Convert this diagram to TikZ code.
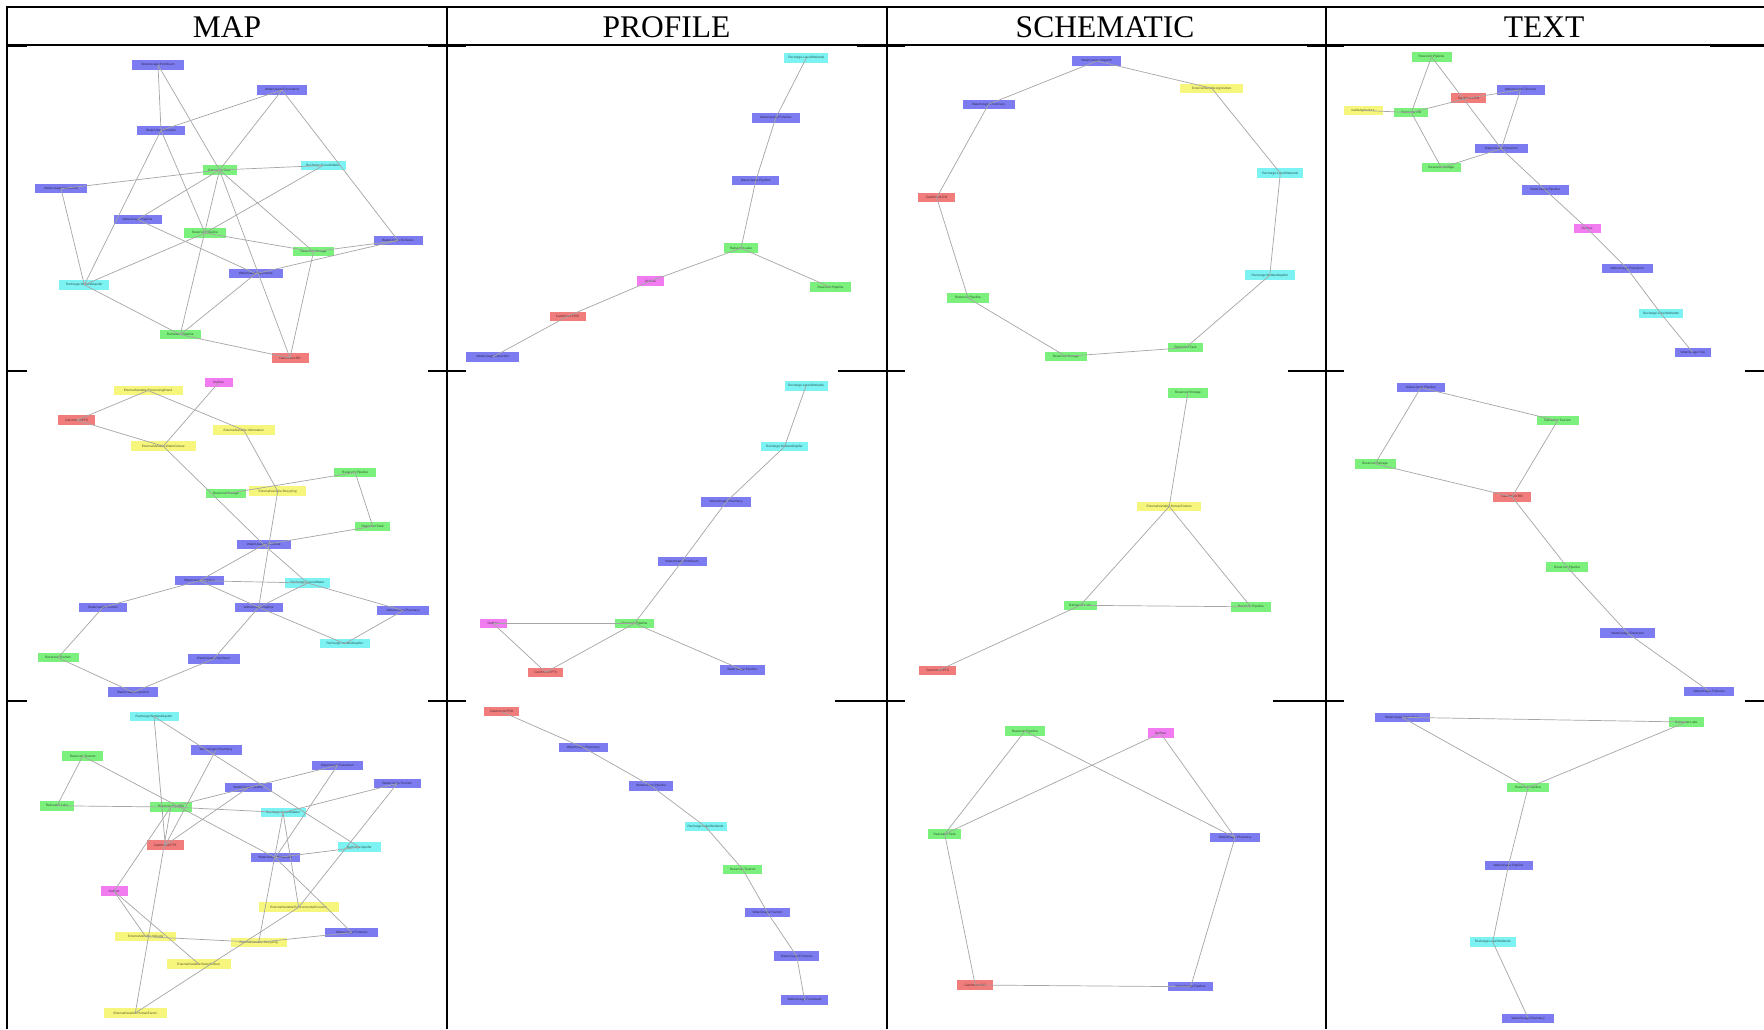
\documentclass[tikz,border=0pt]{standalone}
\usepackage{fontspec}
\setmainfont{Liberation Serif}
\setsansfont{Liberation Sans}
\definecolor{cblue}{RGB}{124,124,240}
\definecolor{cgreen}{RGB}{124,240,124}
\definecolor{ccyan}{RGB}{124,242,242}
\definecolor{cred}{RGB}{240,124,124}
\definecolor{cmag}{RGB}{240,124,240}
\definecolor{cyel}{RGB}{246,246,124}
\definecolor{cedge}{RGB}{165,165,165}
\tikzset{
  box/.style={rectangle, inner sep=0pt, minimum height=9.5pt, font=\fontsize{3.2}{3.6}\selectfont\sffamily},
  nb/.style={box, fill=cblue, text=cblue!35!black},
  ng/.style={box, fill=cgreen, text=cgreen!35!black},
  nc/.style={box, fill=ccyan, text=ccyan!35!black},
  nr/.style={box, fill=cred, text=cred!35!black},
  nm/.style={box, fill=cmag, text=cmag!35!black},
  ny/.style={box, fill=cyel, text=cyel!35!black},
  link/.style={draw=cedge, line width=0.7pt},
  grid/.style={draw=black, line width=2pt},
  hdr/.style={anchor=base, inner sep=0pt, font=\fontsize{31.5}{34}\selectfont}
}
\begin{document}
\begin{tikzpicture}[x=1pt,y=-1pt]
\fill[white] (0,0) rectangle (1764,1029);
\useasboundingbox (0,0) rectangle (1764,1029);

% ---------- table ----------
\draw[grid] (7.3,7.3) -- (1764,7.3);
\foreach \x in {7.3,446.7,886.7,1326} \draw[grid] (\x,6.3) -- (\x,1029);
\draw[draw=black, line width=1.3pt] (7.3,45) -- (1764,45);
\foreach \y/\a/\b in {46.3/7.3/27, 46.3/428/446.7, 46.3/446.7/466, 46.3/857/886.7, 46.3/886.7/905, 46.3/1307/1326, 46.3/1326/1344, 46.3/1710/1764,
  371/7.3/27, 371/428/446.7, 371/446.7/466, 371/838/886.7, 371/886.7/905, 371/1288/1326, 371/1326/1344, 371/1745/1764,
  701/7.3/27, 701/428/446.7, 701/446.7/466, 701/835/886.7, 701/886.7/905, 701/1273/1326, 701/1326/1344, 701/1745/1764}
  \draw[grid] (\a,\y) -- (\b,\y);
\node[hdr] (hmap) at (227,37.3) {MAP};
\node[hdr] (hprof) at (666.5,37.3) {PROFILE};
\node[hdr] (hsch) at (1105,37.3) {SCHEMATIC};
\node[hdr] (htxt) at (1544,37.3) {TEXT};

% ---------- row 1, MAP ----------
\node[nb, minimum width=52pt] (a1) at (158,65) {WaterUsage:Petroleum};
\node[nb, minimum width=50pt] (a2) at (282,90) {WaterUsage:Forestland};
\node[nb, minimum width=48pt] (a3) at (161,130.3) {WaterUsage:Tourism};
\node[ng, minimum width=34pt] (a4) at (219.5,170) {Rainwater:Tank};
\node[nc, minimum width=45pt] (a5) at (323,165.5) {Recharge:GroundWater};
\node[nb, minimum width=52pt] (a6) at (61,188.7) {WaterUsage:Household};
\node[nb, minimum width=48pt] (a7) at (137.5,219.5) {WaterUsage:Pipeline};
\node[ng, minimum width=42pt] (a8) at (205,233) {Reservoir:Pipeline};
\node[ng, minimum width=41pt] (a9) at (313.5,251.7) {Reservoir:Storage};
\node[nb, minimum width=49pt] (a10) at (398,240.5) {WaterUsage:Fisheries};
\node[nb, minimum width=54pt] (a11) at (255.7,273.7) {WaterUsage:Agriculture};
\node[nc, minimum width=50pt] (a12) at (84.3,284.8) {Recharge:WetlandAquifer};
\node[ng, minimum width=41pt] (a13) at (180.3,334.7) {Rainwater:Pipeline};
\node[nr, minimum width=37pt] (a14) at (290,358) {Catchment:RO};
\foreach \a/\b in {a1/a3,a1/a4,a2/a3,a2/a4,a2/a10,a3/a8,a3/a12,a4/a5,a4/a6,a4/a7,a4/a13,a4/a14,a4/a9,a5/a8,a6/a12,a7/a11,a8/a9,a8/a12,a9/a10,a11/a10,a9/a14,a11/a13,a12/a13,a13/a14}
  \draw[link] (\a.center) -- (\b.center);

% ---------- row 1, PROFILE ----------
\node[nc, minimum width=44pt] (b1) at (806.3,58) {Recharge:Lake/Wetlands};
\node[nb, minimum width=48pt] (b2) at (775.7,118) {WaterUsage:Fisheries};
\node[nb, minimum width=47pt] (b3) at (755.8,180.5) {WaterUsage:Pipeline};
\node[ng, minimum width=34pt] (b4) at (741,248.2) {Rainwater:Lake};
\node[ng, minimum width=41pt] (b5) at (830.5,287.2) {Reservoir:Pipeline};
\node[nm, minimum width=27pt] (b6) at (650.5,281) {Outflow};
\node[nr, minimum width=36pt] (b7) at (567.5,316.3) {Catchment:PRO};
\node[nb, minimum width=53pt] (b8) at (492.7,357) {WaterUsage:Extraction};
\foreach \a/\b in {b1/b2,b2/b3,b3/b4,b4/b5,b4/b6,b6/b7,b7/b8}
  \draw[link] (\a.center) -- (\b.center);

% ---------- row 1, SCHEMATIC ----------
\node[nb, minimum width=49pt] (c1) at (1096.8,61) {WaterUsage:Irrigation};
\node[ny, minimum width=63pt] (c2) at (1211.8,88.3) {ExternalVariable:Agriculture};
\node[nc, minimum width=46pt] (c3) at (1280.3,173.2) {Recharge:Lake/Wetlands};
\node[nc, minimum width=50pt] (c4) at (1269.8,275.2) {Recharge:WetlandAquifer};
\node[ng, minimum width=35pt] (c5) at (1185.7,347.7) {Rainwater:Tank};
\node[ng, minimum width=42pt] (c6) at (1065.8,356.3) {Reservoir:Storage};
\node[ng, minimum width=42pt] (c7) at (968,298) {Reservoir:Pipeline};
\node[nr, minimum width=37pt] (c8) at (936.7,197.5) {Catchment:RO};
\node[nb, minimum width=52pt] (c9) at (988.5,104.3) {WaterUsage:Pharmacy};
\foreach \a/\b in {c1/c2,c2/c3,c3/c4,c4/c5,c5/c6,c6/c7,c7/c8,c8/c9,c9/c1}
  \draw[link] (\a.center) -- (\b.center);

% ---------- row 1, TEXT ----------
\node[ng, minimum width=40pt] (d1) at (1431.5,56.8) {Reservoir:Pipeline};
\node[nr, minimum width=35pt] (d2) at (1468.7,98) {Catchment:RO};
\node[nb, minimum width=48pt] (d3) at (1520.5,89.8) {WaterUsage:Fisheries};
\node[ny, minimum width=39pt] (d4) at (1363,110.5) {riableAgriculture};
\node[ng, minimum width=34pt] (d5) at (1411.3,112.5) {Rainwater:RO};
\node[nb, minimum width=53pt] (d6) at (1501.3,148.7) {WaterUsage:Extraction};
\node[ng, minimum width=39pt] (d7) at (1441.3,167.7) {Reservoir:Storage};
\node[nb, minimum width=47pt] (d8) at (1545.3,190) {WaterUsage:Pipeline};
\node[nm, minimum width=27pt] (d9) at (1587,228.3) {Outflow};
\node[nb, minimum width=51pt] (d10) at (1627.2,268.7) {WaterUsage:Petroleum};
\node[nc, minimum width=44pt] (d11) at (1661,313.7) {Recharge:Lake/Wetlands};
\node[nb, minimum width=36pt] (d12) at (1692.7,352.5) {WaterUsage:Tow};
\foreach \a/\b in {d1/d5,d1/d6,d6/d8,d8/d9,d9/d10,d10/d11,d11/d12,d4/d5,d5/d2,d2/d3,d5/d7,d7/d6,d3/d6}
  \draw[link] (\a.center) -- (\b.center);

% ---------- row 2, MAP ----------
\node[nm, minimum width=28pt] (e1) at (218.5,382.7) {Outflow};
\node[ny, minimum width=69pt] (e2) at (148,390.5) {ExternalVariable:ProcessingBrand};
\node[nr, minimum width=37pt] (e3) at (76.7,420.2) {Catchment:PTS};
\node[ny, minimum width=62pt] (e4) at (243.8,430.2) {ExternalVariable:Information};
\node[ny, minimum width=65pt] (e5) at (163.2,446.2) {ExternalVariable:WaterCulture};
\node[ng, minimum width=42pt] (e6) at (355.2,472.5) {Reservoir:Pipeline};
\node[ng, minimum width=40pt] (e7) at (225.8,493.7) {Reservoir:Storage};
\node[ny, minimum width=57pt] (e8) at (277.7,491.2) {ExternalVariable:Recycling};
\node[ng, minimum width=35pt] (e9) at (372.7,526.3) {Rainwater:Tank};
\node[nb, minimum width=54pt] (e10) at (263.8,544.7) {WaterUsage:Agriculture};
\node[nb, minimum width=49pt] (e11) at (199.5,580.7) {WaterUsage:Irrigation};
\node[nc, minimum width=45pt] (e12) at (307.5,583) {Recharge:GroundWater};
\node[nb, minimum width=48pt] (e13) at (103,607.3) {WaterUsage:Tourism};
\node[nb, minimum width=48pt] (e14) at (258.7,607.3) {WaterUsage:Pipeline};
\node[nb, minimum width=52pt] (e15) at (403.2,610.5) {WaterUsage:Pharmacy};
\node[nc, minimum width=50pt] (e16) at (344.8,643.7) {Recharge:WetlandAquifer};
\node[ng, minimum width=41pt] (e17) at (58,657.7) {Reservoir:Tourism};
\node[nb, minimum width=52pt] (e18) at (213.5,659) {WaterUsage:Petroleum};
\node[nb, minimum width=50pt] (e19) at (133,692.2) {WaterUsage:Livestock};
\foreach \a/\b in {e3/e2,e2/e4,e3/e5,e1/e5,e5/e10,e4/e8,e8/e14,e7/e6,e6/e9,e9/e10,e10/e11,e10/e12,e11/e13,e11/e12,e11/e14,e12/e14,e12/e15,e14/e16,e15/e16,e13/e17,e17/e19,e19/e18,e18/e14}
  \draw[link] (\a.center) -- (\b.center);

% ---------- row 2, PROFILE ----------
\node[nc, minimum width=43pt] (f1) at (806,385.8) {Recharge:Lake/Wetlands};
\node[nc, minimum width=47pt] (f2) at (784.5,446.7) {Recharge:WetlandAquifer};
\node[nb, minimum width=50pt] (f3) at (726.2,501.8) {WaterUsage:Pharmacy};
\node[nb, minimum width=49pt] (f4) at (682,561.3) {WaterUsage:Petroleum};
\node[ng, minimum width=39pt] (f5) at (634.5,623.3) {Reservoir:Pipeline};
\node[nm, minimum width=27pt] (f6) at (493,623.3) {Outflow};
\node[nr, minimum width=35pt] (f7) at (545.7,672.3) {Catchment:PTS};
\node[nb, minimum width=45pt] (f8) at (742.3,669.8) {WaterUsage:Pipeline};
\foreach \a/\b in {f1/f2,f2/f3,f3/f4,f4/f5,f5/f6,f6/f7,f7/f5,f5/f8}
  \draw[link] (\a.center) -- (\b.center);

% ---------- row 2, SCHEMATIC ----------
\node[ng, minimum width=40pt] (g1) at (1187.8,392.8) {Reservoir:Storage};
\node[ny, minimum width=64pt] (g2) at (1169.2,506.5) {ExternalVariable:HumanFactors};
\node[ng, minimum width=33pt] (g3) at (1080.3,605.3) {Rainwater:Lake};
\node[ng, minimum width=40pt] (g4) at (1250.8,606.8) {Reservoir:Pipeline};
\node[nr, minimum width=37pt] (g5) at (937.7,670.7) {Catchment:PTS};
\foreach \a/\b in {g1/g2,g2/g3,g2/g4,g3/g4,g3/g5}
  \draw[link] (\a.center) -- (\b.center);

% ---------- row 2, TEXT ----------
\node[nb, minimum width=48pt] (h1) at (1420.8,387.7) {WaterUsage:Pipeline};
\node[ng, minimum width=42pt] (h2) at (1557.5,420.7) {Rainwater:Tourism};
\node[ng, minimum width=41pt] (h3) at (1375,463.8) {Reservoir:Storage};
\node[nr, minimum width=38pt] (h4) at (1512,496.8) {Catchment:RO};
\node[ng, minimum width=42pt] (h5) at (1567.2,567.2) {Reservoir:Pipeline};
\node[nb, minimum width=55pt] (h6) at (1627.7,633.2) {WaterUsage:Extraction};
\node[nb, minimum width=50pt] (h7) at (1709.3,691.3) {WaterUsage:Fisheries};
\foreach \a/\b in {h1/h2,h1/h3,h3/h4,h2/h4,h4/h5,h5/h6,h6/h7}
  \draw[link] (\a.center) -- (\b.center);

% ---------- row 3, MAP ----------
\node[nc, minimum width=49pt] (i1) at (154,716.5) {Recharge:WetlandAquifer};
\node[nb, minimum width=51pt] (i2) at (216,750) {WaterUsage:Pharmacy};
\node[ng, minimum width=41pt] (i3) at (82.7,756) {Reservoir:Tourism};
\node[nb, minimum width=51pt] (i4) at (337.5,765.3) {WaterUsage:Petroleum};
\node[nb, minimum width=47pt] (i5) at (397.2,783.5) {WaterUsage:Tourism};
\node[nb, minimum width=47pt] (i6) at (248.3,787.5) {WaterUsage:Pipeline};
\node[ng, minimum width=34pt] (i7) at (57,805.8) {Rainwater:Lake};
\node[ng, minimum width=42pt] (i8) at (170.8,807) {Reservoir:Pipeline};
\node[nc, minimum width=45pt] (i9) at (283,812.5) {Recharge:GroundWater};
\node[nr, minimum width=37pt] (i10) at (165.3,845.2) {Catchment:PTS};
\node[nc, minimum width=43pt] (i11) at (359.3,847.2) {Recharge:Aquifer};
\node[nb, minimum width=49pt] (i12) at (275.3,857.7) {WaterUsage:Household};
\node[nm, minimum width=27pt] (i13) at (114,891.2) {Outflow};
\node[ny, minimum width=80pt] (i14) at (298.7,907.2) {ExternalVariable:EnvironmentalConcern};
\node[nb, minimum width=53pt] (i15) at (351.8,932.5) {WaterUsage:Fisheries};
\node[ny, minimum width=61pt] (i16) at (145.7,936.7) {ExternalVariable:Industry};
\node[ny, minimum width=56pt] (i17) at (258.7,942.3) {ExternalVariable:Recycling};
\node[ny, minimum width=64pt] (i18) at (198.8,964) {ExternalVariable:WaterCulture};
\node[ny, minimum width=63pt] (i19) at (135.3,1013) {ExternalVariable:HumanFactor};
\foreach \a/\b in {i1/i10,i1/i11,i3/i7,i3/i12,i7/i8,i8/i9,i8/i6,i6/i4,i6/i10,i2/i10,i8/i19,i8/i13,i9/i5,i9/i17,i9/i14,i4/i12,i12/i11,i5/i14,i19/i14,i13/i16,i13/i18,i16/i17,i17/i15,i12/i15}
  \draw[link] (\a.center) -- (\b.center);

% ---------- row 3, PROFILE ----------
\node[nr, minimum width=35pt] (j1) at (501.7,711.7) {Catchment:PRO};
\node[nb, minimum width=49pt] (j2) at (583.3,747.5) {WaterUsage:Pharmacy};
\node[nb, minimum width=44pt] (j3) at (651.2,786) {WaterUsage:Pipeline};
\node[nc, minimum width=42pt] (j4) at (705.5,826.7) {Recharge:Lake/Wetlands};
\node[ng, minimum width=39pt] (j5) at (742.7,869.3) {Reservoir:Tourism};
\node[nb, minimum width=45pt] (j6) at (767.5,912.7) {WaterUsage:Tourism};
\node[nb, minimum width=45pt] (j7) at (796.7,956.2) {WaterUsage:Fisheries};
\node[nb, minimum width=47pt] (j8) at (804.5,999.8) {WaterUsage:Forestland};
\foreach \a/\b in {j1/j2,j2/j3,j3/j4,j4/j5,j5/j6,j6/j7,j7/j8}
  \draw[link] (\a.center) -- (\b.center);

% ---------- row 3, SCHEMATIC ----------
\node[ng, minimum width=40pt] (k1) at (1024.8,731.2) {Reservoir:Pipeline};
\node[nm, minimum width=26pt] (k2) at (1160.5,733.2) {Outflow};
\node[ng, minimum width=33pt] (k3) at (944.7,834) {Rainwater:Tank};
\node[nb, minimum width=50pt] (k4) at (1235,837.5) {WaterUsage:Pharmacy};
\node[nr, minimum width=36pt] (k5) at (975.2,985) {Catchment:RO};
\node[nb, minimum width=45pt] (k6) at (1190.7,986.7) {WaterUsage:Pipeline};
\foreach \a/\b in {k1/k3,k1/k4,k2/k3,k2/k4,k3/k5,k5/k6,k6/k4}
  \draw[link] (\a.center) -- (\b.center);

% ---------- row 3, TEXT ----------
\node[nb, minimum width=55pt] (l1) at (1402,717.3) {WaterUsage:Agriculture};
\node[ng, minimum width=35pt] (l2) at (1686.3,722) {Rainwater:Lake};
\node[ng, minimum width=42pt] (l3) at (1528,787.7) {Reservoir:Pipeline};
\node[nb, minimum width=48pt] (l4) at (1508.5,865.3) {WaterUsage:Pipeline};
\node[nc, minimum width=46pt] (l5) at (1492.7,941.8) {Recharge:Lake/Wetlands};
\node[nb, minimum width=52pt] (l6) at (1528.2,1018.3) {WaterUsage:Pharmacy};
\foreach \a/\b in {l1/l2,l1/l3,l2/l3,l3/l4,l4/l5,l5/l6}
  \draw[link] (\a.center) -- (\b.center);
\end{tikzpicture}
\end{document}
